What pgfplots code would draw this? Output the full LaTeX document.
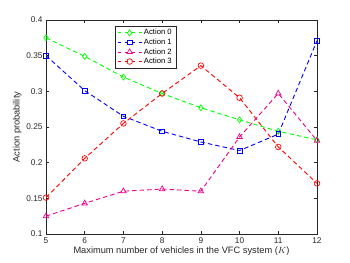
\documentclass[border=0pt]{standalone}
\usepackage{pgfplots}
\pgfplotsset{compat=1.18}
\usepackage{fontspec}
\setmainfont{Liberation Sans}
\definecolor{tickgray}{RGB}{38,38,38}
\begin{document}
\begin{tikzpicture}
\useasboundingbox (0,0) rectangle (350bp,263bp);
\begin{axis}[
  at={(46bp,29bp)}, anchor=south west,
  scale only axis, width=271bp, height=214bp,
  xmin=5, xmax=12, ymin=0.1, ymax=0.4,
  xtick={5,...,12}, ytick={0.1,0.15,...,0.41},
  yticklabel style={/pgf/number format/fixed, /pgf/number format/precision=2},
  /pgf/number format/assume math mode=true,
  tick align=inside, tick pos=both,
  major tick length=3bp,
  axis line style={tickgray, line width=0.5pt},
  every tick/.style={tickgray, line width=0.5pt},
  tick label style={font=\fontsize{8.3}{10}\selectfont, text=tickgray},
  label style={font=\fontsize{9.3}{11}\selectfont, text=tickgray},
  xlabel={Maximum number of vehicles in the VFC system ($K$)},
  ylabel={Action probability},
  xlabel style={yshift=3bp},
  ylabel style={yshift=-2bp},
  legend style={at={(rel axis cs:0.255,0.972)}, anchor=north west,
    font=\fontsize{7.7}{9}\selectfont, draw=tickgray, line width=0.4pt,
    inner xsep=2pt, inner ysep=1.2pt, row sep=-1.5pt, cells={anchor=west}},
  legend image code/.code={
    \draw[mark repeat=2,mark phase=2, dash pattern=on 3.5bp off 3.5bp, dash phase=0bp] plot coordinates {(0cm,0cm) (0.42cm,0cm) (0.84cm,0cm)};},
  every axis plot/.append style={line width=0.9pt, dash pattern=on 4.5bp off 3bp, mark options={solid, line width=0.7pt}, mark size=3bp},
]
\addplot[color=green, mark=diamond] coordinates {(5,0.375) (6,0.349) (7,0.320) (8,0.297) (9,0.277) (10,0.260) (11,0.244) (12,0.232)};
\addlegendentry{Action 0}
\addplot[color=blue, mark=square, mark size=2.4bp] coordinates {(5,0.350) (6,0.301) (7,0.265) (8,0.244) (9,0.229) (10,0.217) (11,0.240) (12,0.371)};
\addlegendentry{Action 1}
\addplot[color=magenta, mark=triangle, mark size=3.2bp] coordinates {(5,0.125) (6,0.143) (7,0.160) (8,0.163) (9,0.160) (10,0.236) (11,0.297) (12,0.231)};
\addlegendentry{Action 2}
\addplot[color=red, mark=o, mark size=2.8bp] coordinates {(5,0.151) (6,0.206) (7,0.255) (8,0.297) (9,0.336) (10,0.291) (11,0.222) (12,0.171)};
\addlegendentry{Action 3}
\end{axis}
\end{tikzpicture}
\end{document}
